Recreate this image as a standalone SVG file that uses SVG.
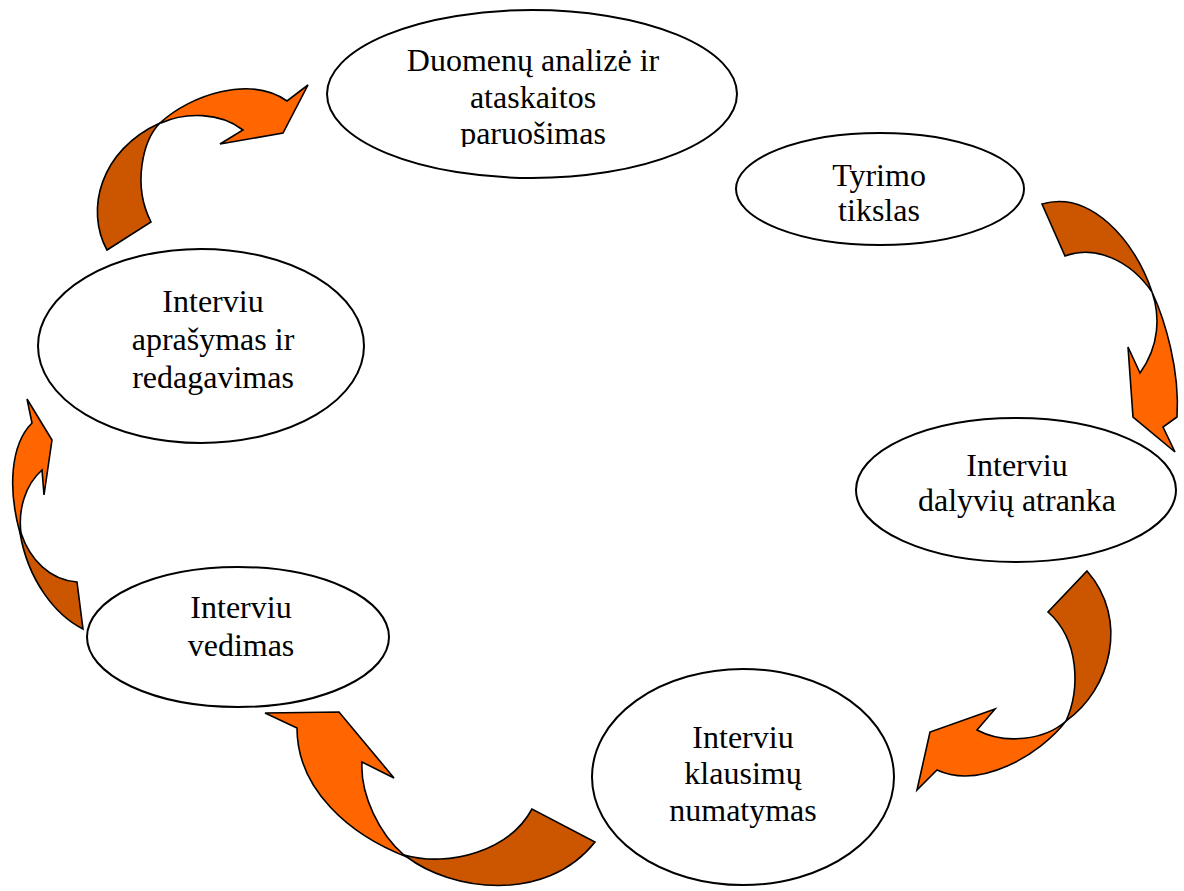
<svg xmlns="http://www.w3.org/2000/svg" width="1184" height="891" viewBox="0 0 1184 891">
<style>
.node{fill:#fff;stroke:#000;stroke-width:2}
.t{font-family:"Liberation Serif","Times New Roman",serif;font-size:32px;fill:#000;text-anchor:middle}
.lt{fill:#FF6600;stroke:#000;stroke-width:1.6;stroke-linejoin:miter}
.dk{fill:#CC5500;stroke:#000;stroke-width:1.6;stroke-linejoin:miter}
</style>
<defs>
<clipPath id="clip1"><rect x="300" y="0" width="460" height="147"/></clipPath>
</defs>
<rect width="1184" height="891" fill="#fff"/>
<g id="connectors">
<g id="arrow1">
<path class="dk" d="M107,250 C85,210 100,150 160,123 C143,140 132,185 151,222 Z"/>
<path class="lt" d="M160,123 C190,95 250,75 287,101 L308,85 L283,133 L220,144 L243,130 C220,112 185,112 161,123 Z"/>
</g>
<g id="arrow2">
<path class="dk" d="M1042,204 C1090,190 1135,240 1152,292 C1130,260 1095,245 1065,256 Z"/>
<path class="lt" d="M1152,292 C1165,320 1180,370 1177,417 L1163,427 L1175,452 L1133,417 L1128,347 L1140,373 C1160,345 1160,315 1152,292 Z"/>
</g>
<g id="arrow3">
<path class="dk" d="M1087,571 C1130,620 1110,690 1066,721 C1080,690 1080,640 1048,612 Z"/>
<path class="lt" d="M1066,721 C1040,755 980,790 937,770 L917,790 L930,732 L995,709 L977,730 C1005,745 1045,740 1066,721 Z"/>
</g>
<g id="arrow4">
<path class="dk" d="M407,857 C450,890 545,905 595,842 L532,809 C510,850 450,868 404,855 Z"/>
<path class="lt" d="M407,857 C350,835 297,790 297,728 L265,713 L339,712 L394,778 L362,762 C360,795 380,835 404,855 Z"/>
</g>
<g id="arrow5">
<path class="dk" d="M20,533 C28,580 55,615 83,629 L77,582 C50,580 30,560 21,533 Z"/>
<path class="lt" d="M20,533 C8,490 10,445 32,423 L27,399 L52,440 L44,495 L42,470 C25,485 18,510 21,533 Z"/>
</g>
</g>
<g id="node-duomenu">
<ellipse class="node" cx="532" cy="94" rx="205" ry="84"/>
<text class="t" x="533" y="71">Duomenų analizė ir</text>
<text class="t" x="533" y="108">ataskaitos</text>
<text class="t" x="533" y="144" clip-path="url(#clip1)">paruošimas</text>
</g>
<g id="node-tyrimo">
<ellipse class="node" cx="880" cy="189" rx="144" ry="56"/>
<text class="t" x="879" y="186">Tyrimo</text>
<text class="t" x="879" y="221">tikslas</text>
</g>
<g id="node-dalyviu">
<ellipse class="node" cx="1016" cy="490" rx="160" ry="72"/>
<text class="t" x="1017" y="476">Interviu</text>
<text class="t" x="1017" y="511">dalyvių atranka</text>
</g>
<g id="node-klausimu">
<ellipse class="node" cx="743" cy="777" rx="151" ry="108"/>
<text class="t" x="743" y="748">Interviu</text>
<text class="t" x="743" y="784">klausimų</text>
<text class="t" x="743" y="821">numatymas</text>
</g>
<g id="node-vedimas">
<ellipse class="node" cx="238" cy="637" rx="151" ry="70"/>
<text class="t" x="241" y="618">Interviu</text>
<text class="t" x="241" y="656">vedimas</text>
</g>
<g id="node-aprasymas">
<ellipse class="node" cx="201" cy="346" rx="163" ry="97"/>
<text class="t" x="213" y="312">Interviu</text>
<text class="t" x="213" y="350">aprašymas ir</text>
<text class="t" x="213" y="388">redagavimas</text>
</g>
</svg>
